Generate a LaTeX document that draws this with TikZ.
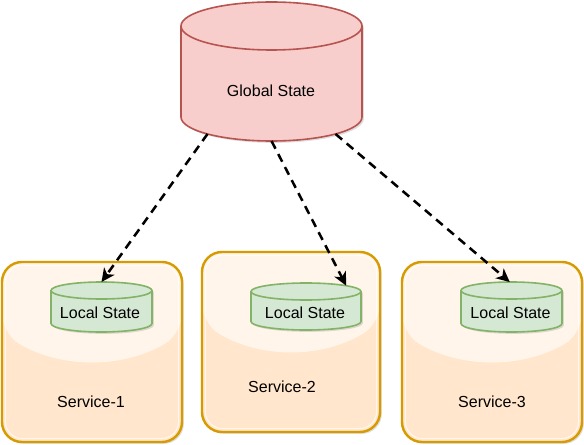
\documentclass[tikz,border=0pt]{standalone}
\usepackage{fontspec}
\setmainfont{Liberation Sans}
\usetikzlibrary{arrows.meta,calc,shadows}

\definecolor{gsfill}{HTML}{F8CECC}
\definecolor{gsline}{HTML}{B85450}
\definecolor{lsfill}{HTML}{D5E8D4}
\definecolor{lsline}{HTML}{82B366}
\definecolor{svcfill}{HTML}{FFE6CC}
\definecolor{svcline}{HTML}{D79B00}

\tikzset{
  softshadow/.style={drop shadow={opacity=0.25, shadow xshift=1.4pt, shadow yshift=-1.4pt}},
  svcbox/.style={draw=svcline, line width=1.8pt, fill=svcfill, rounded corners=15pt,
    minimum width=#1, minimum height=135pt, softshadow,
    path picture={
      % glass
      \fill[white, opacity=0.6] (path picture bounding box.north west) -- (path picture bounding box.north east)
        -- ([yshift=-54pt]path picture bounding box.north east)
        .. controls ([xshift=-45pt,yshift=-80pt]path picture bounding box.north east)
        and ([xshift=45pt,yshift=-80pt]path picture bounding box.north west)
        .. ([yshift=-54pt]path picture bounding box.north west) -- cycle;
      \draw[white, opacity=0.7, line width=0.8pt, rounded corners=13pt]
        ([shift={(2.5pt,-2.5pt)}]path picture bounding box.north west)
        rectangle ([shift={(-2.5pt,2.5pt)}]path picture bounding box.south east);
    }},
  flowline/.style={-{Stealth[length=10pt,width=9.5pt,inset=2.8pt]}, line width=1.9pt,
    dash pattern=on 6.5pt off 4.5pt}
}

% cylinder: name, cx, top, bottom, rx, ry, fill, line
\newcommand{\dbcyl}[8]{%
  \path[softshadow, fill=#7, draw=#8, line width=1.2pt] (#2-#5,#3+#6) -- (#2-#5,#4-#6)
    arc[start angle=180, end angle=0, x radius=#5, y radius=#6] -- (#2+#5,#3+#6)
    arc[start angle=0, end angle=-180, x radius=#5, y radius=#6] -- cycle;
  \draw[#8, line width=1.2pt] (#2-#5,#3+#6)
    arc[start angle=180, end angle=0, x radius=#5, y radius=#6];
  \coordinate (#1-cap) at (#2,#3+#6);
  \coordinate (#1-base) at (#2,#4-#6);
}

\begin{document}
\begin{tikzpicture}[x=0.75pt, y=-0.75pt, every node/.style={font=\fontsize{12pt}{14pt}\selectfont}]
  \useasboundingbox (0,0) rectangle (584,445);

  % services
  \node[svcbox=135pt] (s1) at (92,352) {};
  \node[svcbox=133.5pt] (s2) at (291,342) {};
  \node[svcbox=135pt] (s3) at (492,352) {};

  \node (s1-name) at (91,402) {Service-1};
  \node (s2-name) at (282,387) {Service-2};
  \node (s3-name) at (492,402) {Service-3};

  % local state
  \dbcyl{ls1}{101.5}{282}{332}{50.5}{8.5}{lsfill}{lsline}
  \dbcyl{ls2}{306}{283}{330}{55}{8.5}{lsfill}{lsline}
  \dbcyl{ls3}{511.5}{282}{332}{50.5}{8.5}{lsfill}{lsline}

  \node (ls1) at (100,313) {Local State};
  \node (ls2) at (305,313) {Local State};
  \node (ls3) at (510.5,313) {Local State};

  % global state
  \dbcyl{gs}{271.5}{2}{141}{90.5}{24}{gsfill}{gsline}
  \node (gs) at (271,91) {Global State};

  % connectors
  \coordinate (gs-out1) at ($(gs-base)+(135:90.5 and 24)$);
  \coordinate (gs-out2) at ($(gs-base)+(90:90.5 and 24)$);
  \coordinate (gs-out3) at ($(gs-base)+(45:90.5 and 24)$);
  \coordinate (ls1-in) at ($(ls1-cap)+(-90:50.5 and 8.5)$);
  \coordinate (ls2-in) at ($(ls2-cap)+(-43:55 and 8.5)$);
  \coordinate (ls3-in) at ($(ls3-cap)+(-92:50.5 and 8.5)$);

  \draw[flowline] (gs-out1) -- (ls1-in);
  \draw[flowline] (gs-out2) -- (ls2-in);
  \draw[flowline] (gs-out3) -- (ls3-in);
\end{tikzpicture}
\end{document}
